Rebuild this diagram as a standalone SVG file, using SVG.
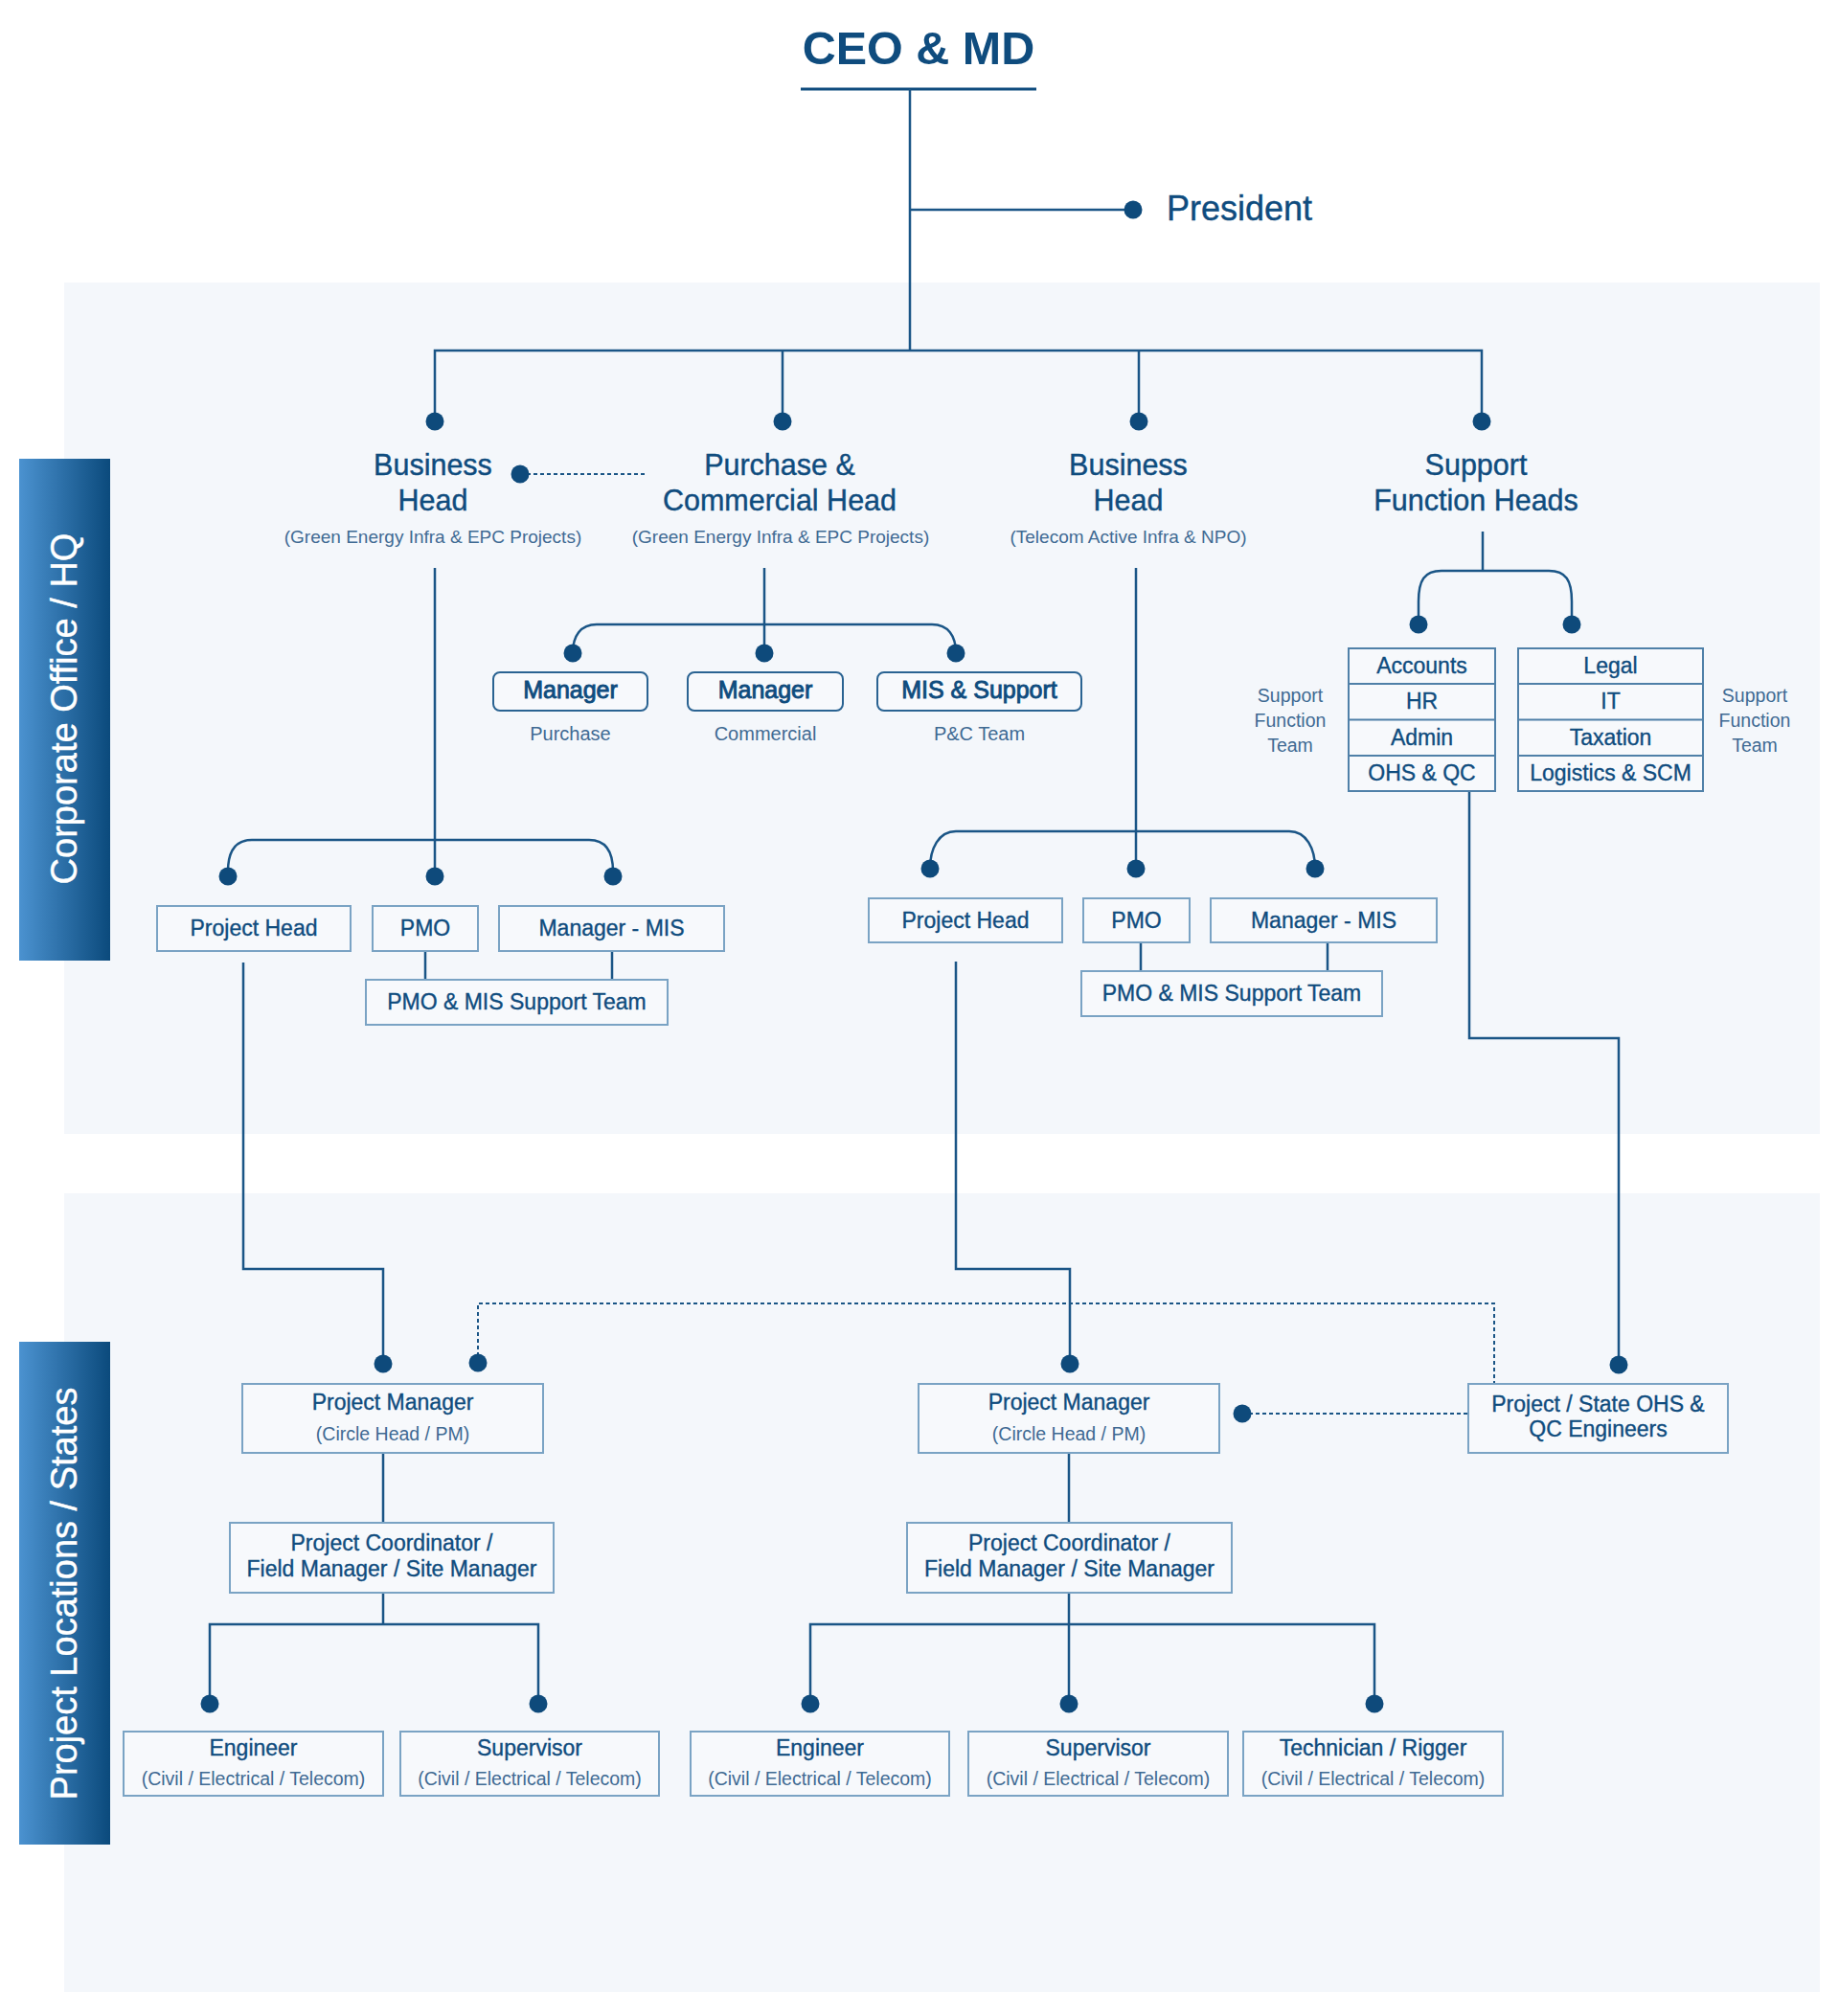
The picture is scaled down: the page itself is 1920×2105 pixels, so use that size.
<svg xmlns="http://www.w3.org/2000/svg" width="1920" height="2105" viewBox="0 0 1920 2105">
<defs>
<linearGradient id="band" x1="0" y1="0" x2="1" y2="0">
<stop offset="0" stop-color="#4b92d0"/>
<stop offset="1" stop-color="#0b4a7c"/>
</linearGradient>
<style>
.t{font-family:"Liberation Sans",Arial,sans-serif;fill:#0f4c7e;text-anchor:middle}
.h{font-size:30.5px;stroke:#0f4c7e;stroke-width:0.4px}
.s{font-size:19px;fill:#3f6a93}
.b{font-size:23px;stroke:#0f4c7e;stroke-width:0.35px}
.m{font-size:25px;stroke:#0f4c7e;stroke-width:0.9px}
.ln{stroke:#1a5586;stroke-width:2.5;fill:none}
.dash{stroke-dasharray:4 3;stroke-width:2}
.dot{fill:#0e4a7b}
.box{fill:#f7f9fc;stroke:#7aa3c4;stroke-width:2}
.tbl{fill:#f7f9fc;stroke:#4f80a8;stroke-width:2}
.rbox{fill:#f7f9fc;stroke:#2a6392;stroke-width:2}
.band{font-family:"Liberation Sans",Arial,sans-serif;fill:#ffffff;stroke:#ffffff;stroke-width:0.4px;font-size:38px;text-anchor:middle}
</style>
</defs>
<rect x="0" y="0" width="1920" height="2105" fill="#ffffff"/>
<rect id="panel-hq" x="67" y="295" width="1833" height="889" fill="#f4f7fb"/>
<rect id="panel-states" x="67" y="1246" width="1833" height="834" fill="#f4f7fb"/>
<g id="band-hq">
<rect x="20" y="479" width="95" height="524" fill="url(#band)"/>
<text class="band" transform="translate(80,740) rotate(-90)">Corporate Office / HQ</text>
</g>
<g id="band-states">
<rect x="20" y="1401" width="95" height="525" fill="url(#band)"/>
<text class="band" transform="translate(80,1664) rotate(-90)">Project Locations / States</text>
</g>

<g id="connectors">
<line x1="836" y1="93" x2="1082" y2="93" stroke="#0f4c7e" stroke-width="3"/>
<path class="ln" d="M950 93 V366"/>
<path class="ln" d="M950 219 H1183"/>
<path class="ln" d="M454 440 V366 H1547 V440 M817 366 V440 M1189 366 V440"/>
<path class="ln dash" d="M543 495 H676"/>
<path class="ln" d="M454 593 V915"/>
<path class="ln" d="M238 910 C238 888 246 877 263 877 H615 C632 877 640 888 640 910"/>
<path class="ln" d="M798 593 V682"/>
<path class="ln" d="M598 682 C598 664 606 652 623 652 H973 C990 652 998 664 998 682"/>
<path class="ln" d="M1186 593 V907"/>
<path class="ln" d="M971 907 C971 886 980 868 998 868 H1346 C1364 868 1373 886 1373 907"/>
<path class="ln" d="M1548 555 V596"/>
<path class="ln" d="M1481 652 V628 C1481 606 1487 596 1505 596 H1617 C1635 596 1641 606 1641 628 V652"/>
<path class="ln" d="M444 993 V1023 M639 993 V1023 M1191 984 V1014 M1386 984 V1014"/>
<path class="ln" d="M254 1005 V1325 H400 V1424"/>
<path class="ln" d="M998 1004 V1325 H1117 V1424"/>
<path class="ln" d="M1534 826 V1084 H1690 V1425"/>
<path class="ln dash" d="M499 1423 V1361 H1560 V1445"/>
<path class="ln dash" d="M1297 1476 H1533"/>
<path class="ln" d="M400 1517 V1590 M400 1663 V1696 M219 1779 V1696 H562 V1779"/>
<path class="ln" d="M1116 1517 V1590 M1116 1663 V1779 M846 1779 V1696 H1435 V1779"/>
<g class="dot">
<circle cx="1183" cy="219" r="9.5"/>
<circle cx="454" cy="440" r="9.5"/>
<circle cx="817" cy="440" r="9.5"/>
<circle cx="1189" cy="440" r="9.5"/>
<circle cx="1547" cy="440" r="9.5"/>
<circle cx="543" cy="495" r="9.5"/>
<circle cx="598" cy="682" r="9.5"/>
<circle cx="798" cy="682" r="9.5"/>
<circle cx="998" cy="682" r="9.5"/>
<circle cx="1481" cy="652" r="9.5"/>
<circle cx="1641" cy="652" r="9.5"/>
<circle cx="238" cy="915" r="9.5"/>
<circle cx="454" cy="915" r="9.5"/>
<circle cx="640" cy="915" r="9.5"/>
<circle cx="971" cy="907" r="9.5"/>
<circle cx="1186" cy="907" r="9.5"/>
<circle cx="1373" cy="907" r="9.5"/>
<circle cx="400" cy="1424" r="9.5"/>
<circle cx="499" cy="1423" r="9.5"/>
<circle cx="1117" cy="1424" r="9.5"/>
<circle cx="1690" cy="1425" r="9.5"/>
<circle cx="1297" cy="1476" r="9.5"/>
<circle cx="219" cy="1779" r="9.5"/>
<circle cx="562" cy="1779" r="9.5"/>
<circle cx="846" cy="1779" r="9.5"/>
<circle cx="1116" cy="1779" r="9.5"/>
<circle cx="1435" cy="1779" r="9.5"/>
</g>
</g>

<g id="ceo">
<text class="t" x="959" y="67" style="font-size:48.5px;font-weight:bold">CEO &amp; MD</text>
</g>
<g id="president">
<text class="t" x="1218" y="230" style="font-size:36px;text-anchor:start;stroke:#0f4c7e;stroke-width:0.4px">President</text>
</g>
<g id="bh-green">
<text class="t h" x="452" y="496">Business</text>
<text class="t h" x="452" y="533">Head</text>
<text class="t s" x="452" y="567">(Green Energy Infra &amp; EPC Projects)</text>
</g>
<g id="pch">
<text class="t h" x="814" y="496">Purchase &amp;</text>
<text class="t h" x="814" y="533">Commercial Head</text>
<text class="t s" x="815" y="567">(Green Energy Infra &amp; EPC Projects)</text>
</g>
<g id="bh-telecom">
<text class="t h" x="1178" y="496">Business</text>
<text class="t h" x="1178" y="533">Head</text>
<text class="t s" x="1178" y="567">(Telecom Active Infra &amp; NPO)</text>
</g>
<g id="sfh">
<text class="t h" x="1541" y="496">Support</text>
<text class="t h" x="1541" y="533">Function Heads</text>
</g>

<g id="mgr-purchase">
<rect class="rbox" x="515" y="702" width="161" height="40" rx="7"/>
<text class="t m" x="595.5" y="729">Manager</text>
<text class="t s" x="595.5" y="773" style="font-size:20px">Purchase</text>
</g>
<g id="mgr-commercial">
<rect class="rbox" x="718" y="702" width="162" height="40" rx="7"/>
<text class="t m" x="799" y="729">Manager</text>
<text class="t s" x="799" y="773" style="font-size:20px">Commercial</text>
</g>
<g id="mis-support">
<rect class="rbox" x="916" y="702" width="213" height="40" rx="7"/>
<text class="t m" x="1022.5" y="729">MIS &amp; Support</text>
<text class="t s" x="1022.5" y="773" style="font-size:20px">P&amp;C Team</text>
</g>

<g id="support-team-left">
<rect class="tbl" x="1408" y="677" width="153" height="149"/>
<path class="tbl" d="M1408 714 H1561 M1408 751.5 H1561 M1408 789 H1561"/>
<text class="t b" x="1484.5" y="703">Accounts</text>
<text class="t b" x="1484.5" y="740">HR</text>
<text class="t b" x="1484.5" y="777.5">Admin</text>
<text class="t b" x="1484.5" y="815">OHS &amp; QC</text>
<text class="t s" x="1347" y="733" style="font-size:19.5px">Support</text>
<text class="t s" x="1347" y="759" style="font-size:19.5px">Function</text>
<text class="t s" x="1347" y="785" style="font-size:19.5px">Team</text>
</g>
<g id="support-team-right">
<rect class="tbl" x="1585" y="677" width="193" height="149"/>
<path class="tbl" d="M1585 714 H1778 M1585 751.5 H1778 M1585 789 H1778"/>
<text class="t b" x="1681.5" y="703">Legal</text>
<text class="t b" x="1681.5" y="740">IT</text>
<text class="t b" x="1681.5" y="777.5">Taxation</text>
<text class="t b" x="1681.5" y="815">Logistics &amp; SCM</text>
<text class="t s" x="1832" y="733" style="font-size:19.5px">Support</text>
<text class="t s" x="1832" y="759" style="font-size:19.5px">Function</text>
<text class="t s" x="1832" y="785" style="font-size:19.5px">Team</text>
</g>

<g id="ph-left">
<rect class="box" x="164" y="946" width="202" height="47"/>
<text class="t b" x="265" y="977">Project Head</text>
</g>
<g id="pmo-left">
<rect class="box" x="389" y="946" width="110" height="47"/>
<text class="t b" x="444" y="977">PMO</text>
</g>
<g id="mis-left">
<rect class="box" x="521" y="946" width="235" height="47"/>
<text class="t b" x="638.5" y="977">Manager - MIS</text>
</g>
<g id="pmo-team-left">
<rect class="box" x="382" y="1023" width="315" height="47"/>
<text class="t b" x="539.5" y="1054">PMO &amp; MIS Support Team</text>
</g>
<g id="ph-right">
<rect class="box" x="907" y="938" width="202" height="46"/>
<text class="t b" x="1008" y="969">Project Head</text>
</g>
<g id="pmo-right">
<rect class="box" x="1131" y="938" width="111" height="46"/>
<text class="t b" x="1186.5" y="969">PMO</text>
</g>
<g id="mis-right">
<rect class="box" x="1264" y="938" width="236" height="46"/>
<text class="t b" x="1382" y="969">Manager - MIS</text>
</g>
<g id="pmo-team-right">
<rect class="box" x="1129" y="1014" width="314" height="47"/>
<text class="t b" x="1286" y="1045">PMO &amp; MIS Support Team</text>
</g>

<g id="pm-left">
<rect class="box" x="253" y="1445" width="314" height="72"/>
<text class="t b" x="410" y="1472">Project Manager</text>
<text class="t s" x="410" y="1504" style="font-size:19.5px">(Circle Head / PM)</text>
</g>
<g id="pm-right">
<rect class="box" x="959" y="1445" width="314" height="72"/>
<text class="t b" x="1116" y="1472">Project Manager</text>
<text class="t s" x="1116" y="1504" style="font-size:19.5px">(Circle Head / PM)</text>
</g>
<g id="ohs">
<rect class="box" x="1533" y="1445" width="271" height="72"/>
<text class="t b" x="1668.5" y="1474">Project / State OHS &amp;</text>
<text class="t b" x="1668.5" y="1500">QC Engineers</text>
</g>
<g id="pc-left">
<rect class="box" x="240" y="1590" width="338" height="73"/>
<text class="t b" x="409" y="1619">Project Coordinator /</text>
<text class="t b" x="409" y="1646">Field Manager / Site Manager</text>
</g>
<g id="pc-right">
<rect class="box" x="947" y="1590" width="339" height="73"/>
<text class="t b" x="1116.5" y="1619">Project Coordinator /</text>
<text class="t b" x="1116.5" y="1646">Field Manager / Site Manager</text>
</g>

<g id="eng-left">
<rect class="box" x="129" y="1808" width="271" height="67"/>
<text class="t b" x="264.5" y="1833">Engineer</text>
<text class="t s" x="264.5" y="1864" style="font-size:19.5px">(Civil / Electrical / Telecom)</text>
</g>
<g id="sup-left">
<rect class="box" x="418" y="1808" width="270" height="67"/>
<text class="t b" x="553" y="1833">Supervisor</text>
<text class="t s" x="553" y="1864" style="font-size:19.5px">(Civil / Electrical / Telecom)</text>
</g>
<g id="eng-right">
<rect class="box" x="721" y="1808" width="270" height="67"/>
<text class="t b" x="856" y="1833">Engineer</text>
<text class="t s" x="856" y="1864" style="font-size:19.5px">(Civil / Electrical / Telecom)</text>
</g>
<g id="sup-right">
<rect class="box" x="1011" y="1808" width="271" height="67"/>
<text class="t b" x="1146.5" y="1833">Supervisor</text>
<text class="t s" x="1146.5" y="1864" style="font-size:19.5px">(Civil / Electrical / Telecom)</text>
</g>
<g id="tech-right">
<rect class="box" x="1298" y="1808" width="271" height="67"/>
<text class="t b" x="1433.5" y="1833">Technician / Rigger</text>
<text class="t s" x="1433.5" y="1864" style="font-size:19.5px">(Civil / Electrical / Telecom)</text>
</g>
</svg>
